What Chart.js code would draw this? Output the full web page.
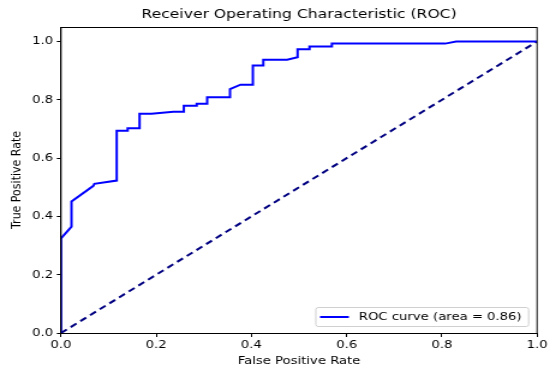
<!DOCTYPE html>
<html>
<head>
<meta charset="utf-8">
<script src="https://cdn.jsdelivr.net/npm/chart.js@4"></script>
<style>
    html, body { margin: 0; padding: 0; background: #fff; overflow: hidden; }
    /* the reference picture is a little wider than tall, so the chart is drawn narrower and stretched */
    #wrap { width: 458px; height: 373px; transform: scaleX(1.2009); transform-origin: 0 0; }
    #roc { width: 458px; height: 373px; }
</style>
</head>
<body>
<div id="wrap"><canvas id="roc" width="458" height="373"></canvas></div>
<script>
// ROC curve points
const fpr = [0, 0, 0.022, 0.022, 0.068, 0.070, 0.117, 0.117, 0.14, 0.14, 0.165, 0.165, 0.19, 0.236, 0.258, 0.258,
    0.285, 0.285, 0.307, 0.307, 0.355, 0.355, 0.377, 0.403, 0.403, 0.425, 0.425, 0.475, 0.497, 0.497,
    0.522, 0.522, 0.569, 0.569, 0.807, 0.83, 1.0];
const tpr = [0, 0.325, 0.365, 0.451, 0.505, 0.512, 0.523, 0.694, 0.694, 0.703, 0.703, 0.752, 0.752, 0.759, 0.759, 0.78,
    0.78, 0.787, 0.787, 0.809, 0.809, 0.837, 0.852, 0.852, 0.918, 0.918, 0.938, 0.938, 0.946, 0.974,
    0.974, 0.983, 0.983, 0.993, 0.993, 1.0, 1.0];
const chanceX = [0, 1];
const chanceY = [0, 1];
const xTicks = [0, 0.2, 0.4, 0.6, 0.8, 1.0];
const yTicks = [0, 0.2, 0.4, 0.6, 0.8, 1.0];
const rocLabel = 'ROC curve (area = 0.86)';
const titleText = 'Receiver Operating Characteristic (ROC)';

const FONT = '"DejaVu Sans", sans-serif';

// box around the plot, title and legend, done by hand so it looks like matplotlib
const mplExtras = {
    id: 'mplExtras',
    afterDraw(chart) {
        const ctx = chart.ctx;
        const a = chart.chartArea;
        ctx.save();
        ctx.strokeStyle = '#000';
        ctx.lineWidth = 1;
        ctx.strokeRect(a.left, a.top + 0.5, a.right - a.left, a.bottom - a.top);

        ctx.fillStyle = '#000';
        ctx.font = '13px ' + FONT;
        ctx.textAlign = 'center';
        ctx.textBaseline = 'middle';
        ctx.fillText(titleText, (a.left + a.right) / 2, 14.5);

        // legend, lower right
        const ds = chart.data.datasets[0];
        ctx.font = '11px ' + FONT;
        const tw = ctx.measureText(ds.label).width;
        const bw = tw + 41.6, bh = 19;
        const bx = a.right - 7 - bw, by = a.bottom - 7 - bh;
        ctx.fillStyle = 'rgba(255,255,255,0.8)';
        ctx.strokeStyle = '#d0d0d0';
        ctx.lineWidth = 1;
        ctx.beginPath();
        ctx.roundRect(bx, by + 0.5, bw, bh, 2);
        ctx.fill();
        ctx.stroke();
        ctx.strokeStyle = ds.borderColor;
        ctx.lineWidth = 2;
        ctx.beginPath();
        ctx.moveTo(bx + 3.5, by + bh / 2 + 0.5);
        ctx.lineTo(bx + 27.5, by + bh / 2 + 0.5);
        ctx.stroke();
        ctx.fillStyle = '#000';
        ctx.textAlign = 'left';
        ctx.fillText(ds.label, bx + 35.8, by + bh / 2 + 1);
        ctx.restore();
    }
};

const toPoints = (xs, ys) => xs.map((x, i) => ({ x: x, y: ys[i] }));

new Chart(document.getElementById('roc'), {
    type: 'scatter',
    data: {
        datasets: [{
            label: rocLabel,
            data: toPoints(fpr, tpr),
            showLine: true,
            borderColor: '#0000ff',
            borderWidth: 2,
            pointRadius: 0,
            tension: 0
        }, {
            label: 'chance',
            data: toPoints(chanceX, chanceY),
            showLine: true,
            borderColor: '#000080',
            borderWidth: 2,
            borderDash: [6, 4],
            pointRadius: 0
        }]
    },
    options: {
        responsive: false,
        animation: false,
        layout: { padding: { left: 0, right: 10.8, top: 27, bottom: 0 } },
        plugins: {
            legend: { display: false },
            title: { display: false },
            tooltip: { enabled: false }
        },
        scales: {
            x: {
                type: 'linear',
                min: 0,
                max: 1,
                afterBuildTicks: axis => { axis.ticks = xTicks.map(v => ({ value: v })); },
                afterFit: scale => { scale.height = 40; },
                grid: { display: true, drawOnChartArea: false, drawTicks: true, tickLength: 4, color: '#000' },
                border: { display: true, color: '#000' },
                ticks: {
                    color: '#000',
                    font: { family: FONT, size: 11 },
                    padding: 2,
                    maxRotation: 0,
                    callback: v => v.toFixed(1)
                },
                title: {
                    display: true,
                    text: 'False Positive Rate',
                    color: '#000',
                    font: { family: FONT, size: 11 },
                    padding: { top: 0, bottom: 5 }
                }
            },
            y: {
                type: 'linear',
                min: 0,
                max: 1.05,
                afterBuildTicks: axis => { axis.ticks = yTicks.map(v => ({ value: v })); },
                afterFit: scale => { scale.width = 50.8; },
                grid: { display: true, drawOnChartArea: false, drawTicks: true, tickLength: 3.5, color: '#000' },
                border: { display: true, color: '#000' },
                ticks: {
                    color: '#000',
                    font: { family: FONT, size: 11 },
                    padding: 3,
                    callback: v => v.toFixed(1)
                },
                title: {
                    display: true,
                    text: 'True Positive Rate',
                    color: '#000',
                    font: { family: FONT, size: 11 },
                    padding: { top: 7.5, bottom: 0 }
                }
            }
        }
    },
    plugins: [mplExtras]
});
</script>
</body>
</html>
